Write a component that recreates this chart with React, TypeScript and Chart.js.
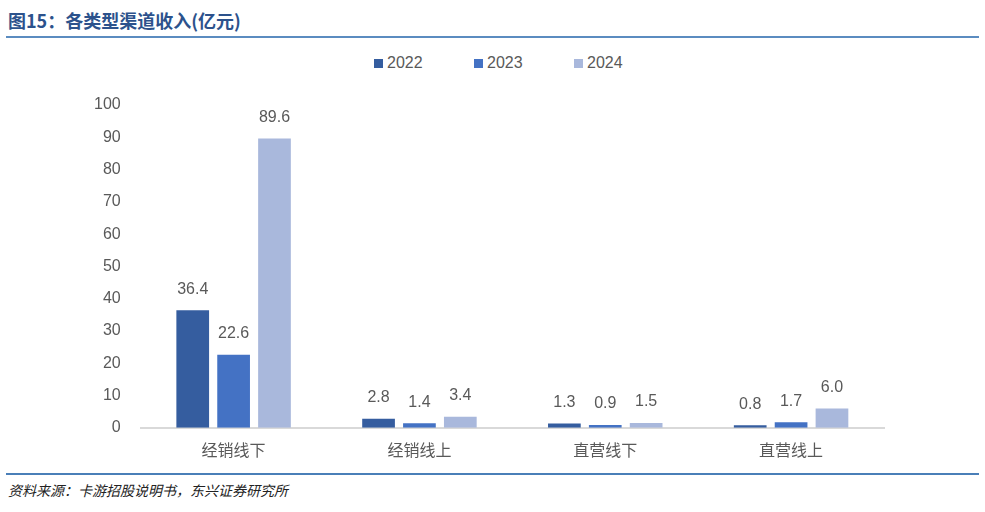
import { useEffect, useRef } from "react";
import Chart from "chart.js/auto";

const categories = ["经销线下", "经销线上", "直营线下", "直营线上"];
const years = ["2022", "2023", "2024"];
const values2022 = [36.4, 2.8, 1.3, 0.8];
const values2023 = [22.6, 1.4, 0.9, 1.7];
const values2024 = [89.6, 3.4, 1.5, 6.0];
const colors = ["#355d9f", "#4472c4", "#a9b8dc"];
const yTicks = [0, 10, 20, 30, 40, 50, 60, 70, 80, 90, 100];

const FONT = '"Liberation Sans", "Noto Sans CJK SC", sans-serif';

const valueLabels = {
  id: "valueLabels",
  afterDatasetsDraw(chart: any) {
    const ctx = chart.ctx;
    ctx.save();
    ctx.font = `16px ${FONT}`;
    ctx.fillStyle = "#595959";
    ctx.textAlign = "center";
    ctx.textBaseline = "bottom";
    chart.data.datasets.forEach((ds: any, i: number) => {
      const meta = chart.getDatasetMeta(i);
      meta.data.forEach((bar: any, j: number) => {
        ctx.fillText(Number(ds.data[j]).toFixed(1), bar.x, bar.y - 13);
      });
    });
    ctx.restore();
  },
};

export default function App() {
  const chartRef = useRef<HTMLCanvasElement | null>(null);
  const chartInstance = useRef<Chart<any> | null>(null);

  useEffect(() => {
    if (!chartRef.current) return;
    if (chartInstance.current) chartInstance.current.destroy();
    const ctx = chartRef.current.getContext("2d");
    if (!ctx) return;

    const series = [values2022, values2023, values2024];
    chartInstance.current = new Chart(ctx, {
      type: "bar",
      data: {
        labels: categories,
        datasets: years.map((y, i) => ({
          label: y,
          data: series[i],
          backgroundColor: colors[i],
          categoryPercentage: 0.66,
          barPercentage: 0.8,
        })),
      },
      options: {
        responsive: true,
        maintainAspectRatio: false,
        animation: false,
        layout: { padding: { left: 74, right: 101, top: 61, bottom: 0 } },
        plugins: {
          legend: { display: false },
          tooltip: { enabled: false },
        },
        scales: {
          x: {
            grid: { display: false, drawTicks: false },
            border: { color: "#d9d9d9", width: 2 },
            ticks: {
              color: "#595959",
              font: { family: FONT, size: 16 },
              padding: 14,
            },
          },
          y: {
            min: 0,
            max: 100,
            afterBuildTicks: (axis: any) => {
              axis.ticks = yTicks.map((v) => ({ value: v }));
            },
            grid: { display: false, drawTicks: false },
            border: { display: false },
            ticks: {
              color: "#595959",
              font: { family: FONT, size: 16 },
              padding: 20,
            },
          },
        },
      },
      plugins: [valueLabels],
    });

    return () => {
      if (chartInstance.current) {
        chartInstance.current.destroy();
        chartInstance.current = null;
      }
    };
  }, []);

  return (
    <div
      style={{
        position: "absolute",
        left: 0,
        top: 0,
        width: 985,
        height: 512,
        background: "#fff",
        overflow: "hidden",
      }}
    >
      <div
        style={{
          position: "absolute",
          left: 8,
          top: 8,
          fontFamily: '"Noto Sans CJK SC", sans-serif',
          fontWeight: 700,
          fontSize: 18,
          lineHeight: "24px",
          color: "#2c528c",
        }}
      >
        图15：各类型渠道收入(亿元)
      </div>
      <div
        style={{
          position: "absolute",
          left: 6,
          top: 36,
          width: 973,
          height: 2,
          background: "#5b8cc0",
        }}
      />
      {years.map((y, i) => (
        <div
          key={y}
          style={{
            position: "absolute",
            left: 374 + i * 100,
            top: 53,
            height: 20,
            display: "flex",
            alignItems: "center",
            fontFamily: FONT,
            fontSize: 16,
            color: "#595959",
          }}
        >
          <span
            style={{
              display: "inline-block",
              width: 9,
              height: 9,
              background: colors[i],
              marginRight: 4,
            }}
          />
          {y}
        </div>
      ))}
      <div style={{ position: "absolute", left: 0, top: 44, width: 985, height: 431 }}>
        <canvas ref={chartRef} />
      </div>
      <div
        style={{
          position: "absolute",
          left: 6,
          top: 473,
          width: 973,
          height: 2,
          background: "#4a7fb8",
        }}
      />
      <div
        style={{
          position: "absolute",
          left: 8,
          top: 480,
          fontFamily: '"Noto Sans CJK SC", sans-serif',
          fontStyle: "italic",
          fontSize: 14,
          lineHeight: "20px",
          color: "#222",
        }}
      >
        资料来源：卡游招股说明书，东兴证券研究所
      </div>
    </div>
  );
}
